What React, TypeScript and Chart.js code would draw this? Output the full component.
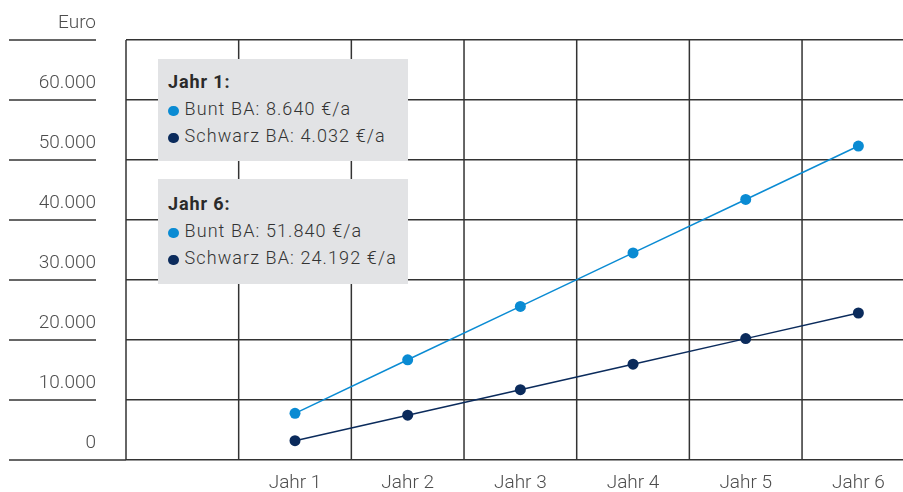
import React, { useEffect, useRef } from 'react';
import { Chart, registerables } from 'chart.js';

Chart.register(...registerables);

// ---- data ----
const years = ['Jahr 1', 'Jahr 2', 'Jahr 3', 'Jahr 4', 'Jahr 5', 'Jahr 6'];
const buntValues = [7780, 16700, 25600, 34520, 43420, 52330];
const schwarzValues = [3220, 7470, 11720, 15970, 20230, 24500];
const yTickValues = [0, 10000, 20000, 30000, 40000, 50000, 60000, 70000];
const yAxisTitle = 'Euro';
const seriesNames = ['Bunt BA', 'Schwarz BA'];
const boxTitles = ['Jahr 1:', 'Jahr 6:'];
const boxBunt = ['8.640', '51.840'];
const boxSchwarz = ['4.032', '24.192'];
const unit = '€/a';

// ---- style ----
const BUNT = '#0a8bd3';
const SCHWARZ = '#0b2b5c';
const GRID = '#333333';
const TICK_TEXT = '#4d4d4d';
const FONT = 'Roboto, "Noto Sans", sans-serif';
const W = 903;
const H = 492;

const fmt = (v: number) => String(v).replace(/\B(?=(\d{3})+(?!\d))/g, '.');

const gridPlugin = {
  id: 'customGrid',
  beforeDatasetsDraw(chart: any) {
    const { ctx, chartArea, scales } = chart;
    const xs = scales.x;
    const ys = scales.y;
    ctx.save();
    ctx.strokeStyle = GRID;
    ctx.lineWidth = 1.5;
    for (let i = 0; i <= years.length; i++) {
      const px = xs.getPixelForValue(i - 0.5);
      ctx.beginPath();
      ctx.moveTo(px, chartArea.top);
      ctx.lineTo(px, chartArea.bottom);
      ctx.stroke();
    }
    for (const v of yTickValues) {
      const py = ys.getPixelForValue(v);
      ctx.beginPath();
      ctx.moveTo(9, py);
      ctx.lineTo(v === 0 ? chartArea.left : 96, py);
      ctx.stroke();
    }
    ctx.restore();
  },
};

function InfoBox({ idx, top, height, padTop }: { idx: number; top: number; height: number; padTop: number }) {
  const dot = (c: string) => (
    <span
      style={{
        display: 'inline-block',
        width: 10.5,
        height: 10.5,
        borderRadius: '50%',
        background: c,
        marginRight: 6,
        verticalAlign: '-1px',
      }}
    />
  );
  return (
    <div
      style={{
        position: 'absolute',
        left: 158,
        top,
        width: 250,
        height,
        boxSizing: 'border-box',
        padding: `${padTop}px 0 0 10px`,
        background: '#e2e3e5',
        fontFamily: FONT,
        fontSize: 18,
        lineHeight: '27px',
        color: '#333',
        fontWeight: 300,
        letterSpacing: '1.1px',
        whiteSpace: 'nowrap',
      }}
    >
      <div style={{ fontWeight: 700, color: '#2a2a2a', letterSpacing: '0.9px' }}>{boxTitles[idx]}</div>
      <div>
        {dot(BUNT)}
        {seriesNames[0]}: {boxBunt[idx]} {unit}
      </div>
      <div>
        {dot(SCHWARZ)}
        {seriesNames[1]}: {boxSchwarz[idx]} {unit}
      </div>
    </div>
  );
}

export default function App() {
  const ref = useRef<HTMLCanvasElement | null>(null);

  useEffect(() => {
    if (!ref.current) return;
    const chart = new Chart(ref.current, {
      type: 'line',
      data: {
        datasets: [
          {
            label: seriesNames[0],
            data: buntValues.map((v, i) => ({ x: i + 1, y: v })),
            borderColor: BUNT,
            backgroundColor: BUNT,
            pointBackgroundColor: BUNT,
            pointBorderWidth: 0,
            pointRadius: 5.5,
            borderWidth: 1.5,
            tension: 0,
          },
          {
            label: seriesNames[1],
            data: schwarzValues.map((v, i) => ({ x: i + 1, y: v })),
            borderColor: SCHWARZ,
            backgroundColor: SCHWARZ,
            pointBackgroundColor: SCHWARZ,
            pointBorderWidth: 0,
            pointRadius: 5.5,
            borderWidth: 1.5,
            tension: 0,
          },
        ],
      },
      options: {
        responsive: false,
        animation: false,
        events: [],
        layout: { autoPadding: false, padding: { top: 40, left: 0, right: 0, bottom: 0 } },
        plugins: {
          legend: { display: false },
          tooltip: { enabled: false },
        },
        scales: {
          x: {
            type: 'linear',
            min: -0.5,
            max: 6.396,
            afterBuildTicks: (axis: any) => {
              axis.ticks = years.map((_, i) => ({ value: i + 1 }));
            },
            afterFit: (axis: any) => {
              axis.height = 32;
              axis.paddingLeft = 0;
              axis.paddingRight = 0;
            },
            grid: { display: false, drawTicks: false },
            border: { display: false },
            ticks: {
              autoSkip: false,
              maxRotation: 0,
              padding: 12,
              color: TICK_TEXT,
              font: { family: FONT, size: 19, weight: 300 as any },
              callback: (v: any) => years[Number(v) - 1] ?? '',
            },
          },
          y: {
            type: 'linear',
            min: 0,
            max: 70000,
            afterBuildTicks: (axis: any) => {
              axis.ticks = yTickValues.map((v) => ({ value: v }));
            },
            afterFit: (axis: any) => {
              axis.width = 126;
              axis.paddingTop = 0;
              axis.paddingBottom = 0;
            },
            grid: { color: GRID, lineWidth: 1.5, drawTicks: false },
            border: { display: false },
            ticks: {
              padding: 30,
              labelOffset: -17,
              color: TICK_TEXT,
              font: { family: FONT, size: 19, weight: 300 as any },
              callback: (v: any) => (Number(v) === 70000 ? yAxisTitle : fmt(Number(v))),
            },
          },
        },
      },
      plugins: [gridPlugin],
    });
    return () => chart.destroy();
  }, []);

  return (
    <div style={{ position: 'absolute', left: 0, top: 0, width: W, height: H, background: '#fff' }}>
      <canvas ref={ref} width={W} height={H} style={{ display: 'block' }} />
      <InfoBox idx={0} top={59} height={102} padTop={9} />
      <InfoBox idx={1} top={179} height={105} padTop={11} />
    </div>
  );
}
